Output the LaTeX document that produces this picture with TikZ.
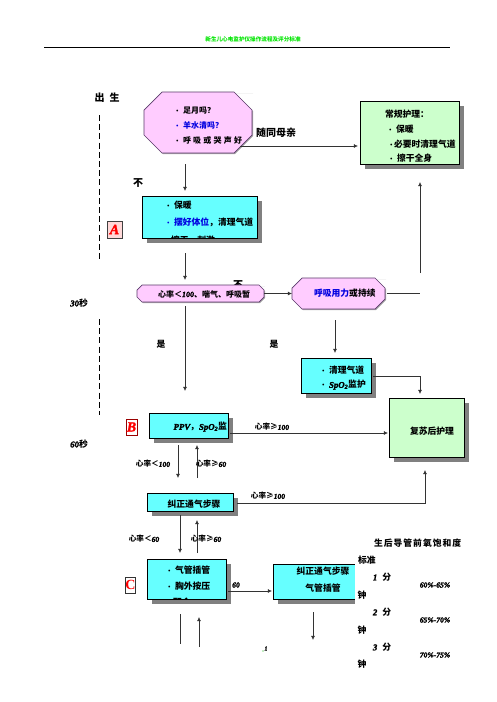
\documentclass[tikz,border=0pt]{standalone}
\usepackage{fontspec}
\setmainfont{Noto Sans CJK SC}
\newfontfamily\latinf[BoldItalicFeatures={FakeBold=2}]{Liberation Serif}
\usetikzlibrary{shadows,arrows.meta,calc}
\definecolor{pinkbox}{HTML}{FFCCFF}
\definecolor{cyanbox}{HTML}{66FFFF}
\definecolor{greenbox}{HTML}{CCFFCC}
\definecolor{octline}{HTML}{5A3A6A}
\definecolor{bluetxt}{HTML}{0000E0}
\newcommand{\nm}[1]{{\latinf\bfseries\itshape #1}}
\newcommand{\bul}{{\fontsize{6.5}{8}\selectfont\textbullet}\hspace{2.5pt}}
% name, centre, width, height, chamfer
\newcommand{\octnode}[5]{%
  \node[minimum width=#3pt,minimum height=#4pt] (#1) at #2 {};
  \fill[black!35] ([shift={(1,1)}]#1.north west) ++(#5,0) -- ([shift={(1,1)}]#1.north east) ++(-#5,0) -- ++(#5,#5)
     -- ([shift={(1,-#5+1)}]#1.south east) -- ++(-#5,#5) -- ([shift={(#5+1,1)}]#1.south west) -- ++(-#5,-#5)
     -- ([shift={(1,#5+1)}]#1.north west) -- cycle;
  \draw[draw=octline,line width=0.7pt,fill=pinkbox]
     ([xshift=#5pt]#1.north west) -- ([xshift=-#5pt]#1.north east) -- ([yshift=-#5pt]#1.north east)
     -- ([yshift=#5pt]#1.south east) -- ([xshift=-#5pt]#1.south east) -- ([xshift=#5pt]#1.south west)
     -- ([yshift=#5pt]#1.south west) -- ([yshift=-#5pt]#1.north west) -- cycle;
}
\tikzset{
  every node/.style={font=\bfseries\fontsize{8.8}{10}\selectfont,inner sep=0pt,outer sep=0pt,text=black},
  sbox/.style={draw=black,line width=0.7pt,anchor=north west,
    drop shadow={shadow xshift=4.5pt,shadow yshift=-4.5pt,fill=black!50,opacity=1}},
  arr/.style={line width=0.65pt,draw=black!80,-{Latex[length=4.2pt,width=4pt]}},
  plainline/.style={line width=0.65pt,draw=black!80},
  dashv/.style={line width=0.7pt,dash pattern=on 6pt off 3.2pt},
  line1/.style={anchor=west},
  mid/.style={anchor=center},
  small/.style={font=\bfseries\fontsize{7.6}{9}\selectfont},
  big/.style={font=\bfseries\fontsize{10}{12}\selectfont},
  icon/.style={rectangle,draw=black!75,line width=0.6pt,anchor=center,
    font=\latinf\bfseries\itshape\fontsize{14}{14}\selectfont,text=red},
}
\begin{document}
\begin{tikzpicture}[x=1pt,y=-1pt]
\useasboundingbox (0,0) rectangle (496,702);
% header
\node[mid,font=\bfseries\fontsize{5.6}{6}\selectfont,text=green!90!black] (title) at (253,39) {新生儿心电监护仪操作流程及评分标准};
\coordinate (hl) at (44,47); \coordinate (hr) at (450,47);
\draw[line width=0.7pt] (hl) -- (hr);
\node[mid,big] (birth) at (107,98) {出\hspace{5pt}生};
\coordinate (d1a) at (99,115); \coordinate (d1b) at (99,259);
\coordinate (d2a) at (99,319); \coordinate (d2b) at (99,415);
\draw[dashv] (d1a) -- (d1b);
\draw[dashv] (d2a) -- (d2b);
\node[mid] (t30) at (79,303) {\nm{30}秒};
\node[mid] (t60) at (79,444) {\nm{60}秒};
% first octagon
\octnode{q1}{(198,122.5)}{108}{61}{18}
\node[line1,font=\bfseries\fontsize{8}{9}\selectfont] (q1a) at (174,111) {\bul 足月吗？};
\node[line1,font=\bfseries\fontsize{8}{9}\selectfont,text=bluetxt] (q1b) at (174,125.5) {\bul 羊水清吗？};
\node[line1,font=\bfseries\fontsize{8}{9}\selectfont] (q1c) at (174,140) {\bul 呼\hspace{2.2pt}吸\hspace{2.2pt}或\hspace{2.2pt}哭\hspace{2.2pt}声\hspace{2.2pt}好};
% routine care
\node[sbox,fill=greenbox,minimum width=99pt,minimum height=63pt] (care) at (360,101) {};
\node[line1] (c0) at (385,114) {常规护理：};
\node[line1] (c1) at (387,129) {\bul 保暖};
\node[line1] (c2) at (388,144) {\bul\hspace{-3pt}必要时清理气道};
\node[line1] (c3) at (388,158) {\bul 擦干全身};
\node[mid,big] (mom) at (276,133) {随同母亲};
\coordinate (momstart) at (240,146);
\draw[arr] (momstart) -- ([shift={(-2,13.5)}]care.west);
% warm box
\node[sbox,fill=cyanbox,minimum width=115pt,minimum height=42pt] (warm) at (142,196) {};
\node[line1] (w1) at (165,205) {\bul 保暖};
\node[line1] (w2) at (165,222) {\textcolor{bluetxt}{\bul 摆好体位}，清理气道};
\begin{scope}
\clip (warm.north west) rectangle (warm.south east);
\node[line1] (w3) at (171,240) {擦干，刺激};
\end{scope}
\node[mid,big] (no1) at (138,183) {不};
\draw[arr] ([shift={(-13,11)}]q1.south) -- ([shift={(-14.5,-5)}]warm.north);
\node[icon,fill=red!15,minimum width=15pt,minimum height=17pt] (iconA) at (114.5,229.5) {A};
% heart rate node
\node[mid,big] (no2) at (238,285) {不};
\octnode{hrn}{(200.5,293.5)}{127}{17}{5}
\node[line1] (hrt) at (158,294) {\fontsize{8}{9}\selectfont 心率＜\nm{100}、喘气、呼吸暂};
\draw[arr] ([shift={(-14.5,15)}]warm.south) -- ([shift={(-15.5,-5)}]hrn.north);
\octnode{lab}{(338.5,293.5)}{93}{31}{10}
\node[line1] (labt) at (314,293) {\textcolor{bluetxt}{呼吸用力}或持续};
\draw[arr] (hrn.east) -- (lab.west);
\coordinate (labcorner) at (420,293.5);
\draw[plainline] ([xshift=2pt]lab.east) -- (labcorner);
\coordinate (upstart) at (420,273);
\draw[arr] (upstart) -- ([shift={(10.5,18)}]care.south);
\node[mid] (yes1) at (161,344) {是};
\node[mid] (yes2) at (274,344) {是};
% airway box
\node[sbox,fill=cyanbox,minimum width=70pt,minimum height=35pt] (air) at (301,358) {};
\node[line1] (a1) at (320,370) {\bul 清理气道};
\node[line1] (a2) at (320,385) {\bul \nm{SpO}\textsubscript{\nm{2}}监护};
\draw[arr] ([shift={(-3.5,11)}]lab.south) -- ([shift={(-1,-5)}]air.north);
% post-resuscitation
\node[sbox,fill=greenbox,minimum width=75pt,minimum height=59pt] (post) at (389,398) {};
\node[mid] (postt) at (432,431) {复苏后护理};
\draw[arr] ([shift={(2,0.5)}]air.east) -| ([shift={(-6.5,-4)}]post.north);
% B
\node[sbox,fill=cyanbox,minimum width=79pt,minimum height=25pt] (ppv) at (149,413) {};
\node[anchor=east] (ppvt) at (227,427) {\nm{PPV}，\nm{SpO}\textsubscript{\nm{2}}监};
\node[icon,fill=white,draw=red!60!black,minimum width=11pt,minimum height=16pt] (iconB) at (131.5,427) {B};
\draw[arr] ([shift={(-15.5,4)}]hrn.south) -- ([shift={(-3.5,-22)}]ppv.north);
\draw[arr] ([shift={(2,7.5)}]ppv.east) -- ([shift={(-1,5.5)}]post.west);
\node[mid,small] (l100a) at (272,427) {心率≥\nm{100}};
% V box
\node[sbox,fill=cyanbox,minimum width=86pt,minimum height=18pt] (vent) at (147,493) {};
\node[mid] (ventt) at (194,504) {纠正通气步骤};
\draw[arr] ([shift={(-10.5,7)}]ppv.south) -- ([shift={(-12,-15)}]vent.north);
\draw[arr] ([shift={(7,-15)}]vent.north) -- ([shift={(8.5,7)}]ppv.south);
\node[mid,small] (l100b) at (153,464) {心率＜\nm{100}};
\node[mid,small] (l60a) at (211,464) {心率≥\nm{60}};
\draw[arr] ([shift={(4,1)}]vent.east) -| ([shift={(-1.5,13)}]post.south);
\node[mid,small] (l100c) at (268,496) {心率≥\nm{100}};
% C box
\node[sbox,fill=cyanbox,minimum width=79pt,minimum height=40pt] (comp) at (147,559) {};
\node[line1] (cc1) at (166,570) {\bul 气管插管};
\node[line1] (cc2) at (166,586) {\bul 胸外按压};
\begin{scope}
\clip (comp.north west) rectangle (comp.south east);
\node[line1] (cc3) at (173,602) {配合 \nm{PPV}};
\end{scope}
\node[icon,fill=white,draw=black!80,minimum width=9pt,minimum height=16pt,font=\latinf\bfseries\fontsize{14}{14}\selectfont] (iconC) at (130.5,585) {C};
\draw[arr] ([shift={(-10,4)}]vent.south) -- ([shift={(-6.5,-6)}]comp.north);
\draw[arr] ([shift={(10.5,-6)}]comp.north) -- ([shift={(7,9)}]vent.south);
\node[mid,small] (l60b) at (144,539) {心率＜\nm{60}};
\node[mid,small] (l60c) at (206,539) {心率≥\nm{60}};
\node[mid,small] (l60d) at (236,585) {\nm{60}};
% C2 box
\node[sbox,fill=cyanbox,minimum width=102pt,minimum height=35pt] (comp2) at (273,564) {};
\fill[white] (355,555) rectangle (470,610);
\node[mid] (c2a) at (323,571) {纠正通气步骤};
\node[mid] (c2b) at (323,588) {气管插管};
\draw[arr] ([shift={(2,12)}]comp.east) -- ([shift={(-1,9.5)}]comp2.west);
\draw[arr] ([shift={(-11,13)}]comp2.south) -- +(0,28) coordinate (c2end);
\coordinate (ld) at (180,644);
\draw[plainline] ([shift={(-6.5,15)}]comp.south) -- (ld);
\coordinate (lu) at (199,647);
\draw[arr] (lu) -- ([shift={(12.5,18)}]comp.south);
% page number
\fill[green!70!black] (263,651) circle (0.6);
\node[mid,font=\latinf\bfseries\itshape\fontsize{6}{6}\selectfont] (pg) at (266,648.5) {1};
% right text
\node[anchor=west] (s0) at (374,543) {生\hspace{1pt}后\hspace{1pt}导\hspace{1pt}管\hspace{1pt}前\hspace{1pt}氧\hspace{1pt}饱\hspace{1pt}和\hspace{1pt}度};
\node[anchor=west] (s1) at (358,560) {标准};
\node[mid] (m1) at (382,577) {\nm{1}\hspace{5pt}分};
\node[mid,small] (v1) at (435,585) {\nm{60\%-65\%}};
\node[mid] (z1) at (362,595) {钟};
\node[mid] (m2) at (382,612) {\nm{2}\hspace{5pt}分};
\node[mid,small] (v2) at (435,620) {\nm{65\%-70\%}};
\node[mid] (z2) at (362,630) {钟};
\node[mid] (m3) at (382,647) {\nm{3}\hspace{5pt}分};
\node[mid,small] (v3) at (435,655) {\nm{70\%-75\%}};
\node[mid] (z3) at (362,664) {钟};
\end{tikzpicture}
\end{document}
